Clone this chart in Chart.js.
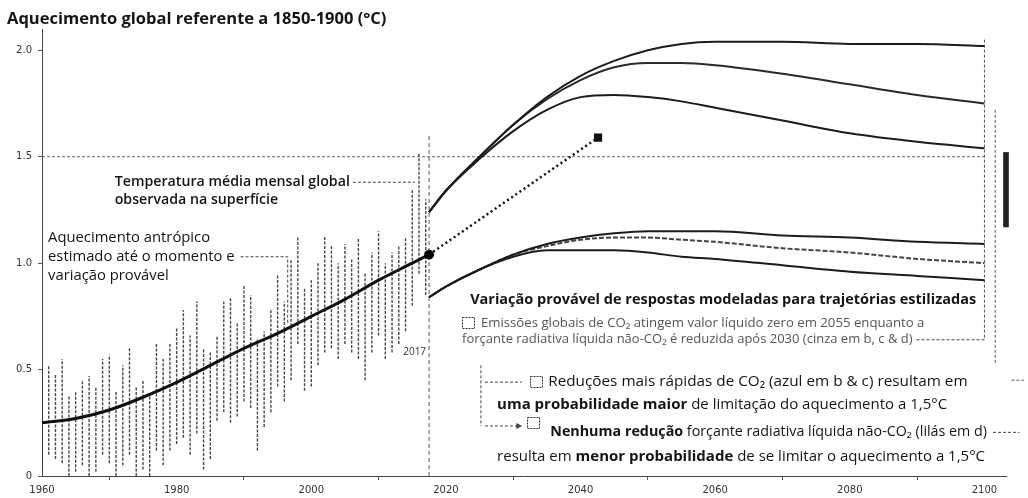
<!DOCTYPE html>
<html lang="pt">
<head>
<meta charset="utf-8">
<title>Aquecimento global referente a 1850-1900</title>
<script src="https://cdn.jsdelivr.net/npm/chart.js@4.4.1/dist/chart.umd.min.js"></script>
<style>
  html, body { margin: 0; padding: 0; background: #fff; }
  #wrap { width: 1028px; height: 498px; }
</style>
</head>
<body>
<div id="wrap"><canvas id="chart" width="1028" height="498"></canvas></div>
<script>
// ---- values ----
const xTicks = [1960, 1980, 2000, 2020, 2040, 2060, 2080, 2100];
const yTicks = [0, 0.5, 1.0, 1.5, 2.0];

// observed monthly temperature, shown as the yearly spread (min / max)
const obsYears = [1960, 1961, 1962, 1963, 1964, 1965, 1966, 1967, 1968, 1969,
                  1970, 1971, 1972, 1973, 1974, 1975, 1976, 1977, 1978, 1979,
                  1980, 1981, 1982, 1983, 1984, 1985, 1986, 1987, 1988, 1989,
                  1990, 1991, 1992, 1993, 1994, 1995, 1996, 1997, 1998, 1999,
                  2000, 2001, 2002, 2003, 2004, 2005, 2006, 2007, 2008, 2009,
                  2010, 2011, 2012, 2013, 2014, 2015, 2016, 2017];
const obsLow  = [0.05, 0.10, 0.08, 0.06, 0.00, 0.02, 0.05, 0.00, 0.02, 0.10,
                 0.06, 0.00, 0.05, 0.10, 0.00, 0.03, 0.00, 0.12, 0.05, 0.12,
                 0.15, 0.18, 0.10, 0.20, 0.03, 0.08, 0.26, 0.30, 0.25, 0.28,
                 0.35, 0.32, 0.12, 0.23, 0.30, 0.42, 0.35, 0.45, 0.62, 0.40,
                 0.42, 0.52, 0.58, 0.60, 0.55, 0.62, 0.58, 0.55, 0.45, 0.58,
                 0.66, 0.55, 0.58, 0.62, 0.68, 0.80, 0.95, 0.85];
const obsHigh = [0.50, 0.52, 0.48, 0.55, 0.38, 0.40, 0.45, 0.47, 0.42, 0.55,
                 0.57, 0.40, 0.52, 0.60, 0.42, 0.45, 0.38, 0.62, 0.55, 0.62,
                 0.70, 0.78, 0.66, 0.82, 0.60, 0.58, 0.66, 0.82, 0.84, 0.72,
                 0.90, 0.85, 0.65, 0.68, 0.78, 0.95, 0.82, 1.02, 1.12, 0.88,
                 0.92, 1.00, 1.13, 1.08, 1.00, 1.09, 1.02, 1.12, 0.95, 1.05,
                 1.15, 1.00, 1.05, 1.08, 1.12, 1.35, 1.52, 1.30];

// human-induced warming to date
const anthroYears  = [1960, 1965, 1970, 1975, 1980, 1985, 1990, 1995, 2000, 2005, 2010, 2015, 2017.5];
const anthroValues = [0.25, 0.27, 0.31, 0.37, 0.44, 0.52, 0.60, 0.67, 0.75, 0.83, 0.92, 1.00, 1.04];

// modelled responses to stylised pathways (upper / lower edges of the likely ranges)
const projYears = [2017.5, 2020, 2025, 2030, 2035, 2040, 2045, 2050, 2055, 2060, 2070, 2080, 2090, 2100];
const upperGrey   = [1.24, 1.34, 1.50, 1.65, 1.78, 1.88, 1.95, 2.00, 2.03, 2.04, 2.04, 2.03, 2.03, 2.02];
const upperLilac  = [1.24, 1.34, 1.50, 1.65, 1.77, 1.86, 1.92, 1.94, 1.94, 1.93, 1.89, 1.84, 1.79, 1.75];
const upperBlue   = [1.24, 1.34, 1.49, 1.62, 1.72, 1.78, 1.79, 1.78, 1.76, 1.73, 1.67, 1.61, 1.57, 1.54];
const lowerGrey   = [0.84, 0.89, 0.97, 1.04, 1.09, 1.12, 1.14, 1.15, 1.15, 1.15, 1.13, 1.12, 1.10, 1.09];
const lowerLilac  = [0.84, 0.89, 0.97, 1.04, 1.08, 1.11, 1.12, 1.12, 1.11, 1.10, 1.07, 1.05, 1.02, 1.00];
const lowerBlue   = [0.84, 0.89, 0.97, 1.03, 1.06, 1.06, 1.06, 1.05, 1.03, 1.02, 0.99, 0.96, 0.94, 0.92];

// current rate extended: from 2017 to the 1.5 level
const trendYears  = [2017.5, 2042.6];
const trendValues = [1.04, 1.59];

const limitLevel = 1.5;
const nowYear = 2017.5;
const rangeBar2100 = [1.17, 1.52];

// ---- helpers ----
const pts = (xs, ys) => xs.map((x, i) => ({ x: x, y: ys[i] }));
const FONT = '"Open Sans", "Noto Sans", sans-serif';
const INK = '#151515';

function curve(values, opts) {
    return Object.assign({
        type: 'line',
        data: pts(projYears, values),
        borderColor: '#1c1c1c',
        borderWidth: 2,
        pointRadius: 0,
        cubicInterpolationMode: 'monotone',
        fill: false,
        order: 3
    }, opts || {});
}

function dashed(points, opts) {
    return Object.assign({
        type: 'line',
        data: points,
        borderColor: '#555',
        borderWidth: 1,
        borderDash: [3, 2],
        pointRadius: 0,
        fill: false,
        clip: false,
        order: 6
    }, opts || {});
}

// draws a line of text made of [text, weight] runs
function textRuns(ctx, parts, x, y, size, color) {
    let cx = x;
    ctx.fillStyle = color || INK;
    parts.forEach(([t, w]) => {
        ctx.font = `${w} ${size}px ${FONT}`;
        ctx.fillText(t, cx, y);
        cx += ctx.measureText(t).width;
    });
    return cx;
}

function box(ctx, x, y) {
    ctx.save();
    ctx.strokeStyle = '#333';
    ctx.lineWidth = 1;
    ctx.setLineDash([2, 1]);
    ctx.strokeRect(Math.round(x) + 0.5, Math.round(y - 6) + 0.5, 12, 11);
    ctx.restore();
}

function leader(ctx, points, arrow) {
    ctx.save();
    ctx.strokeStyle = '#444';
    ctx.lineWidth = 1;
    ctx.setLineDash([3, 2]);
    ctx.beginPath();
    points.forEach(([px, py], i) => i ? ctx.lineTo(px, py) : ctx.moveTo(px, py));
    ctx.stroke();
    if (arrow) {
        const [ex, ey] = points[points.length - 1];
        ctx.setLineDash([]);
        ctx.fillStyle = '#444';
        ctx.beginPath();
        ctx.moveTo(ex + 5, ey);
        ctx.lineTo(ex - 1, ey - 3);
        ctx.lineTo(ex - 1, ey + 3);
        ctx.closePath();
        ctx.fill();
    }
    ctx.restore();
}

const notesPlugin = {
    id: 'notes',
    afterDatasetsDraw(chart) {
        const { ctx } = chart;
        const X = v => chart.scales.x.getPixelForValue(v);
        const Y = v => chart.scales.y.getPixelForValue(v);
        ctx.save();
        ctx.textBaseline = 'middle';
        ctx.textAlign = 'left';

        // title
        textRuns(ctx, [['Aquecimento global referente a 1850-1900 (°C)', 'bold']], 7, 19, 16.5);

        // observed temperature note
        let end = textRuns(ctx, [['Temperatura média mensal global', '600']], X(1970.8), Y(1.38), 14.2);
        leader(ctx, [[end + 3, Y(1.38)], [X(2015.4), Y(1.38)]]);
        textRuns(ctx, [['observada na superfície', '600']], X(1970.8), Y(1.295), 14.2);

        // human-induced warming note
        textRuns(ctx, [['Aquecimento antrópico', 'normal']], X(1960.9), Y(1.117), 14.8);
        end = textRuns(ctx, [['estimado até o momento e', 'normal']], X(1960.9), Y(1.03), 14.8);
        leader(ctx, [[end + 6, Y(1.03)], [X(1996.5), Y(1.03)], [X(1996.5), Y(0.71)]]);
        textRuns(ctx, [['variação provável', 'normal']], X(1960.9), Y(0.942), 14.8);

        // year marker
        ctx.textAlign = 'right';
        textRuns(ctx, [['2017', 'normal']], X(nowYear) - 3, Y(0.58), 10, '#333');
        ctx.textAlign = 'left';

        // legend block
        textRuns(ctx, [['Variação provável de respostas modeladas para trajetórias estilizadas', 'bold']],
                 X(2023.6), Y(0.826), 14.5);
        box(ctx, X(2022.4), Y(0.718));
        textRuns(ctx, [['Emissões globais de CO₂ atingem valor líquido zero em 2055 enquanto a', 'normal']],
                 X(2025.2), Y(0.718), 13.2, '#555');
        end = textRuns(ctx, [['forçante radiativa líquida não-CO₂ é reduzida após 2030 (cinza em b, c & d)', 'normal']],
                 X(2022.4), Y(0.643), 13, '#555');
        leader(ctx, [[end + 4, Y(0.64)], [X(2100), Y(0.64)]]);

        leader(ctx, [[X(2025.2), Y(0.52)], [X(2025.2), Y(0.235)]]);
        leader(ctx, [[X(2025.8), Y(0.441)], [X(2031.3), Y(0.441)]]);
        box(ctx, X(2032.5), Y(0.441));
        textRuns(ctx, [['Reduções mais rápidas de CO₂ (azul em b & c) resultam em', 'normal']],
                 X(2035.2), Y(0.441), 15.3);
        textRuns(ctx, [['uma probabilidade maior', 'bold'], [' de limitação do aquecimento a 1,5°C', 'normal']],
                 X(2027.6), Y(0.336), 15);

        leader(ctx, [[X(2025.8), Y(0.235)], [X(2030.6), Y(0.235)]], true);
        box(ctx, X(2032.1), Y(0.25));
        end = textRuns(ctx, [['Nenhuma redução', 'bold'], [' forçante radiativa líquida não-CO₂ (lilás em d)', 'normal']],
                 X(2035.5), Y(0.205), 14.3);
        leader(ctx, [[end + 6, Y(0.205)], [X(2105.2), Y(0.205)]]);
        textRuns(ctx, [['resulta em ', 'normal'], ['menor probabilidade', 'bold'], [' de se limitar o aquecimento a 1,5°C', 'normal']],
                 X(2027.6), Y(0.092), 15);

        ctx.restore();
    }
};

// yearly spreads as broken vertical strokes (gaps between years)
const obsStrokes = obsYears.flatMap((yr, i) => [
    { x: yr, y: obsLow[i] }, { x: yr, y: obsHigh[i] }, { x: yr, y: null }
]);

const datasets = [
    // observed monthly spread
    {
        type: 'line',
        data: obsStrokes,
        borderColor: 'rgba(40, 40, 40, 0.85)',
        borderWidth: 1.4,
        borderDash: [3, 1.5],
        spanGaps: false,
        pointRadius: 0,
        fill: false,
        order: 8
    },
    // 1.5 °C reference
    dashed([{ x: 1960, y: limitLevel }, { x: 2100, y: limitLevel }], { borderColor: '#666', order: 9 }),
    // 2017 marker
    dashed([{ x: nowYear, y: 0 }, { x: nowYear, y: 1.6 }], { borderColor: '#555', borderDash: [4, 3] }),
    // right edge guides
    dashed([{ x: 2100, y: 2.05 }, { x: 2100, y: 0.64 }]),
    dashed([{ x: 2101.6, y: 1.72 }, { x: 2101.6, y: 0.53 }]),
    dashed([{ x: 2104, y: 0.45 }, { x: 2105.9, y: 0.45 }, { x: 2105.9, y: 1.53 }]),
    // likely range at 2100
    {
        type: 'bar',
        data: [{ x: 2103.2, y: rangeBar2100 }],
        backgroundColor: '#222',
        barThickness: 5,
        clip: false,
        order: 5
    },
    // human-induced warming
    {
        type: 'line',
        data: pts(anthroYears, anthroValues),
        borderColor: '#111',
        borderWidth: 3,
        pointRadius: 0,
        cubicInterpolationMode: 'monotone',
        fill: false,
        order: 2
    },
    // projections
    curve(upperGrey),
    curve(upperLilac, { borderColor: '#2a2a2a' }),
    curve(upperBlue),
    curve(lowerGrey),
    curve(lowerLilac, { borderColor: '#444', borderDash: [5, 2] }),
    curve(lowerBlue),
    // current rate extended
    {
        type: 'line',
        data: pts(trendYears, trendValues),
        borderColor: '#111',
        borderWidth: 2.5,
        borderDash: [2, 3],
        pointRadius: [0, 4],
        pointStyle: 'rect',
        pointBackgroundColor: '#111',
        pointBorderColor: '#111',
        fill: false,
        order: 1
    },
    // today's value
    {
        type: 'line',
        data: [{ x: nowYear, y: anthroValues[anthroValues.length - 1] }],
        pointRadius: 4.5,
        pointBackgroundColor: '#000',
        pointBorderColor: '#000',
        showLine: false,
        order: 0
    }
];

new Chart(document.getElementById('chart').getContext('2d'), {
    type: 'line',
    data: { datasets: datasets },
    options: {
        responsive: false,
        animation: false,
        events: [],
        layout: { padding: { top: 29, right: 22, left: 0, bottom: 0 } },
        plugins: { legend: { display: false }, tooltip: { enabled: false } },
        scales: {
            x: {
                type: 'linear',
                min: 1960,
                max: 2103.2,
                offset: false,
                afterBuildTicks: s => { s.ticks = xTicks.map(v => ({ value: v })); },
                afterFit: s => { s.height = 22; },
                ticks: {
                    callback: v => String(v),
                    maxRotation: 0,
                    padding: 4,
                    color: '#333',
                    font: { family: '"DejaVu Sans", sans-serif', size: 10 }
                },
                grid: { drawOnChartArea: false, drawTicks: true, tickLength: 4, color: '#555' },
                border: { color: '#444', dash: [3, 1] }
            },
            y: {
                min: 0,
                max: 2.1,
                afterBuildTicks: s => { s.ticks = yTicks.map(v => ({ value: v })); },
                afterFit: s => { s.width = 42; },
                ticks: {
                    callback: v => (v === 0 ? '0' : v.toFixed(1)),
                    padding: 6,
                    color: '#333',
                    font: { family: '"DejaVu Sans", sans-serif', size: 10 }
                },
                grid: { drawOnChartArea: false, drawTicks: true, tickLength: 4, color: '#555' },
                border: { color: '#444', dash: [3, 1] }
            }
        }
    },
    plugins: [notesPlugin]
});
</script>
</body>
</html>
